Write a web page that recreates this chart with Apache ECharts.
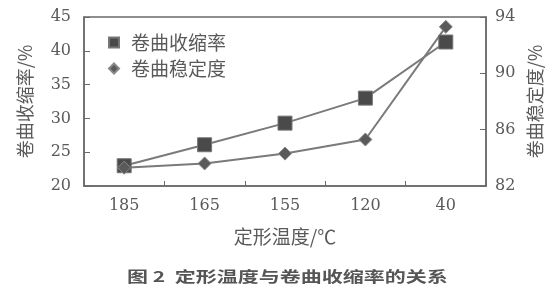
<!DOCTYPE html>
<html><head><meta charset="utf-8">
<script src="https://cdn.jsdelivr.net/npm/echarts@6/dist/echarts.min.js"></script>
<style>html,body{margin:0;padding:0;background:#fff}#c{width:558px;height:300px}</style>
</head><body><div id="c"></div>
<script>
const categories = ['185', '165', '155', '120', '40'];
const shrinkage = [23.0, 26.1, 29.3, 33.0, 41.3];
const stability = [83.3, 83.6, 84.3, 85.3, 93.3];
const leftTicks = [20, 25, 30, 35, 40, 45];
const rightTicks = [82, 86, 90, 94];

const txt = '#5a5a5a';
const axisLine = {show: true, lineStyle: {color: '#6a6a6a', width: 1.5}};
const numFont = {color: txt, fontFamily: 'DejaVu Serif', fontSize: 16};
const cjk = 'Noto Sans CJK SC';
const chart = echarts.init(document.getElementById('c'));
chart.setOption({
  animation: false,
  backgroundColor: '#fff',
  grid: {left: 84, right: 72, top: 17, bottom: 114, show: true, borderColor: '#6a6a6a', borderWidth: 1.5},
  legend: {
    left: 103, top: 28, orient: 'vertical', itemGap: 7, itemWidth: 10, itemHeight: 10,
    textStyle: {color: txt, fontFamily: cjk, fontSize: 19, padding: [0, 0, 0, 7]},
    data: [{name: '卷曲收缩率', icon: 'rect'}, {name: '卷曲稳定度', icon: 'diamond'}]
  },
  xAxis: {
    type: 'category', data: categories, boundaryGap: true,
    axisLine: axisLine,
    axisTick: {show: true, inside: true, length: 5, lineStyle: {color: '#6a6a6a'}},
    axisLabel: Object.assign({margin: 12}, numFont),
    name: '定形温度/℃', nameLocation: 'middle', nameGap: 41,
    nameTextStyle: {color: txt, fontFamily: cjk, fontSize: 19}
  },
  yAxis: [{
    type: 'value', min: leftTicks[0], max: leftTicks[leftTicks.length - 1], interval: 5,
    axisLine: axisLine, splitLine: {show: false},
    axisTick: {show: true, inside: true, length: 6, lineStyle: {color: '#6a6a6a'}},
    axisLabel: Object.assign({margin: 13}, numFont),
    name: '卷曲收缩率/%', nameLocation: 'middle', nameGap: 50, nameRotate: 90,
    nameTextStyle: {color: txt, fontFamily: cjk, fontSize: 18}
  }, {
    type: 'value', min: rightTicks[0], max: rightTicks[rightTicks.length - 1], interval: 4,
    position: 'right',
    axisLine: axisLine, splitLine: {show: false},
    axisTick: {show: true, inside: true, length: 6, lineStyle: {color: '#6a6a6a'}},
    axisLabel: Object.assign({margin: 9}, numFont),
    name: '卷曲稳定度/%', nameLocation: 'middle', nameGap: 34, nameRotate: 90,
    nameTextStyle: {color: txt, fontFamily: cjk, fontSize: 18}
  }],
  series: [{
    name: '卷曲收缩率', type: 'line', yAxisIndex: 0, data: shrinkage,
    symbol: 'rect', symbolSize: 14,
    lineStyle: {color: '#7a7a7a', width: 2},
    itemStyle: {color: '#4a4a4a', borderColor: '#777', borderWidth: 1}
  }, {
    name: '卷曲稳定度', type: 'line', yAxisIndex: 1, data: stability,
    symbol: 'diamond', symbolSize: 13,
    lineStyle: {color: '#7a7a7a', width: 2},
    itemStyle: {color: '#5a5a5a', borderColor: '#888', borderWidth: 1}
  }],
  graphic: [{
    type: 'text', x: 127, y: 276, scaleX: 1.4,
    style: {text: '图 2  定形温度与卷曲收缩率的关系', fill: '#555', font: 'bold 15px "Noto Sans CJK SC"', verticalAlign: 'middle'}
  }]
});
</script></body></html>
